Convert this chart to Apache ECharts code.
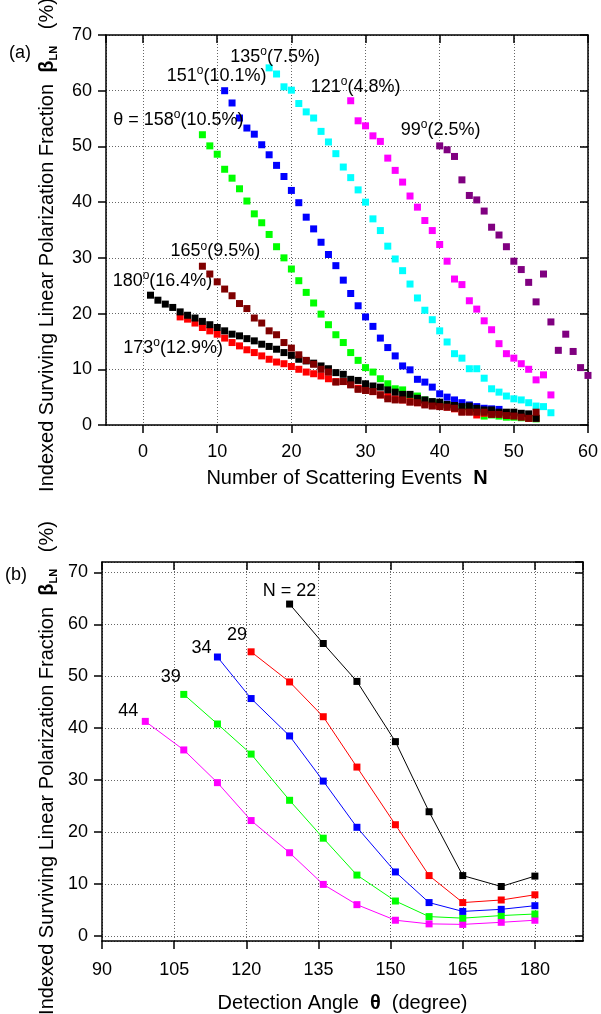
<!DOCTYPE html>
<html>
<head>
<meta charset="utf-8">
<script src="https://cdn.jsdelivr.net/npm/echarts@6/dist/echarts.min.js"></script>
<style>
html,body{margin:0;padding:0;background:#fff;}
#c{width:601px;height:1014px;}
</style>
</head>
<body>
<div id="c"></div>
<script>
// ---------- Panel (a): beta_LN vs N, one array per detection angle ----------
var startN180 = 1;
var vals180 = [23.3,22.4,21.7,21.1,20.3,19.7,19.2,18.6,18.0,17.5,16.9,16.3,16.0,15.5,15.1,14.5,14.1,13.6,13.0,12.5,11.8,11.5,11.1,10.6,10.1,9.4,9.1,8.2,8.0,7.4,7.0,6.8,6.3,5.9,5.5,5.5,4.8,4.5,4.2,4.1,3.7,3.5,3.3,3.4,3.0,2.7,2.7,2.3,2.3,2.3,2.1,2.0,1.2];
var startN173 = 5;
var vals173 = [19.4,19.0,18.3,17.5,16.9,16.3,15.6,14.8,14.2,13.5,13.0,12.4,11.8,11.3,11.0,10.5,10.0,9.5,9.2,8.8,8.3,7.8,7.8,7.3,6.6,6.3,6.0,5.4,5.1,4.7,4.5,4.2,4.0,3.8,3.5,3.4,3.2,2.9,2.4,2.4,1.8,2.1,2.1,2.1,1.8,1.7,1.5,1.2,1.2];
var startN165 = 8;
var vals165 = [28.5,27.1,25.7,24.4,23.2,21.8,20.9,19.2,18.3,16.9,16.2,14.8,13.8,12.6,11.6,10.9,10.0,9.5,7.7,7.8,7.2,6.4,6.2,6.0,5.4,4.7,4.5,4.5,4.1,4.0,3.6,3.4,3.3,3.2,3.0,2.3,2.3,2.3,2.3,1.9,1.9,1.7,1.6,1.4,1.2,2.3];
var startN158 = 8;
var vals158 = [52.1,50.1,48.6,45.9,44.3,42.4,40.2,37.9,36.3,34.2,32.0,30.0,28.0,25.9,23.8,21.9,19.9,18.0,16.2,14.8,13.0,11.6,10.3,9.5,8.3,7.4,6.5,6.3,5.2,5.2,4.5,4.1,3.8,3.5,3.2,3.0,2.8,2.5,1.6,1.8,1.6,1.4,1.4,1.3,1.2,1.1];
var startN151 = 11;
var vals151 = [60.0,57.8,55.1,53.3,52.2,50.3,48.5,46.6,44.6,42.1,39.9,37.3,35.2,32.8,30.6,28.6,26.0,23.6,21.4,19.4,17.7,15.6,13.9,12.4,10.6,9.9,8.2,7.7,6.8,5.6,5.0,4.5,4.0,3.6,3.3,3.0,2.9,2.8];
var startN135 = 17;
var vals135 = [64.1,63.0,60.7,60.1,57.7,56.2,55.1,52.7,50.8,48.7,46.3,44.4,42.2,40.0,37.0,34.9,32.1,29.8,27.7,25.3,22.8,20.6,18.9,16.9,14.9,12.8,12.0,10.1,10.1,8.4,6.5,5.9,5.2,4.7,4.5,4.0,3.4,3.3,2.2];
var startN121 = 28;
var vals121 = [58.2,54.6,53.7,51.9,50.9,47.9,45.7,43.6,41.1,39.1,36.7,34.9,32.4,29.4,26.2,25.2,22.3,20.8,18.7,17.1,14.6,12.8,12.0,11.0,10.0,8.1,9.0,5.4];
var startN99 = 40;
var vals99 = [50.1,49.4,48.2,44.0,41.2,40.4,38.4,35.5,34.1,32.0,29.4,27.9,25.6,22.1,27.1,18.5,13.4,16.3,13.2,10.3,8.9];

var angleLabelsA = {
  a180: ['180', '(16.4%)'], a173: ['173', '(12.9%)'], a165: ['165', '(9.5%)'],
  a158: ['θ = 158', '(10.5%)'], a151: ['151', '(10.1%)'], a135: ['135', '(7.5%)'],
  a121: ['121', '(4.8%)'], a99: ['99', '(2.5%)']
};

// ---------- Panel (b): beta_LN vs detection angle, one array per N ----------
var anglesB = [99, 107, 114, 121, 129, 136, 143, 151, 158, 165, 173, 180];
var startIdx22 = 4;
var valsN22 = [63.9,56.3,49.0,37.4,23.9,11.6,9.5,11.5];
var startIdx29 = 3;
var valsN29 = [54.7,48.9,42.2,32.5,21.4,11.6,6.4,6.9,7.9];
var startIdx34 = 2;
var valsN34 = [53.7,45.7,38.5,29.8,20.9,12.3,6.4,4.7,5.1,5.8];
var startIdx39 = 1;
var valsN39 = [46.5,40.8,35.0,26.1,18.8,11.7,6.7,3.7,3.4,3.9,4.2];
var startIdx44 = 0;
var valsN44 = [41.3,35.8,29.5,22.2,16.0,9.9,6.0,3.0,2.3,2.2,2.6,3.0];
var nLabelsB = ['N = 22', '29', '34', '39', '44'];

// ---------- build ----------
var FONT = '"Liberation Sans", Arial, sans-serif';
function ptsN(start, vals) { return vals.map(function (v, i) { return [start + i, v]; }); }
function ptsA(startIdx, vals) { return vals.map(function (v, i) { return [anglesB[startIdx + i], v]; }); }

function withLabelA(data, lab, off) {
  data[0] = {
    value: data[0],
    label: {
      show: true, position: 'inside', offset: off,
      formatter: '{t|' + lab[0] + '}{s|o}{t|' + lab[1] + '}',
      rich: {
        t: { fontSize: 18, color: '#000', fontFamily: FONT, lineHeight: 22 },
        s: { fontSize: 12, color: '#000', fontFamily: FONT, lineHeight: 12, verticalAlign: 'top' }
      }
    }
  };
  return data;
}
function withLabelB(data, text, off) {
  data[0] = {
    value: data[0],
    label: { show: true, position: 'inside', offset: off, formatter: text,
      fontSize: 18, color: '#000', fontFamily: FONT }
  };
  return data;
}

var gridLine = { show: true, lineStyle: { color: '#666', type: [1, 2], width: 1 } };
var axLine = { show: true, onZero: false, lineStyle: { color: '#000', width: 1.5 } };
var labStyle = { fontSize: 18, color: '#000', fontFamily: FONT };
var yNameText = 'Indexed Surviving Linear Polarization Fraction  {b|β}{sub|LN}   (%)';
function yTitle(cx, cy) {
  return {
    type: 'text', x: cx, y: cy, rotation: Math.PI / 2,
    style: {
      text: yNameText, align: 'center', verticalAlign: 'middle',
      fontSize: 20, fill: '#000', fontFamily: FONT, lineHeight: 24,
      rich: {
        b: { fontSize: 20, fontWeight: 'bold', fill: '#000', fontFamily: FONT, lineHeight: 24 },
        sub: { fontSize: 11, fontWeight: 'bold', fill: '#000', fontFamily: FONT, lineHeight: 11, verticalAlign: 'bottom' }
      }
    }
  };
}

function scatterA(name, color, data, z) {
  return { type: 'scatter', name: name, xAxisIndex: 0, yAxisIndex: 0, symbol: 'rect', symbolSize: 7,
    itemStyle: { color: color, opacity: 1 }, data: data, z: z };
}
function lineB(name, color, data) {
  return { type: 'line', name: name, xAxisIndex: 2, yAxisIndex: 2, symbol: 'rect', symbolSize: 7,
    showAllSymbol: true, itemStyle: { color: color, opacity: 1 }, lineStyle: { color: color, width: 1 }, data: data };
}

var tickOut = { show: true, inside: false, length: 8, lineStyle: { color: '#000', width: 1.5 } };
var tickIn = { show: true, inside: true, length: 8, lineStyle: { color: '#000', width: 1.5 } };

var option = {
  animation: false,
  textStyle: { fontFamily: FONT },
  grid: [
    { left: 106, top: 35, width: 484, height: 390 },
    { left: 102, top: 562, width: 481, height: 386 }
  ],
  xAxis: [
    { gridIndex: 0, type: 'value', min: -5, max: 60, minInterval: 10, maxInterval: 10,
      axisLine: axLine, axisTick: tickOut,
      axisLabel: Object.assign({ margin: 18, showMinLabel: false }, labStyle), splitLine: gridLine,
      name: 'Number of Scattering Events  {b|N}', nameLocation: 'middle', nameGap: 43,
      nameTextStyle: { fontSize: 20, color: '#000', fontFamily: FONT,
        rich: { b: { fontSize: 20, fontWeight: 'bold', color: '#000', fontFamily: FONT } } } },
    { gridIndex: 0, type: 'value', position: 'top', min: -5, max: 60, minInterval: 10, maxInterval: 10,
      axisLine: axLine, axisTick: tickIn, axisLabel: { show: false }, splitLine: { show: false } },
    { gridIndex: 1, type: 'value', min: 90, max: 190, interval: 15,
      axisLine: axLine, axisTick: tickOut,
      axisLabel: Object.assign({ margin: 20, showMaxLabel: false }, labStyle), splitLine: gridLine,
      name: 'Detection Angle  {b|θ}  (degree)', nameLocation: 'middle', nameGap: 52,
      nameTextStyle: { fontSize: 20, color: '#000', fontFamily: FONT,
        rich: { b: { fontSize: 20, fontWeight: 'bold', color: '#000', fontFamily: FONT } } } },
    { gridIndex: 1, type: 'value', position: 'top', min: 90, max: 190, interval: 15,
      axisLine: axLine, axisTick: tickIn, axisLabel: { show: false }, splitLine: { show: false } }
  ],
  yAxis: [
    { gridIndex: 0, type: 'value', min: 0, max: 70, interval: 10,
      axisLine: axLine, axisTick: tickOut,
      axisLabel: Object.assign({ margin: 14 }, labStyle), splitLine: gridLine },
    { gridIndex: 0, type: 'value', position: 'right', min: 0, max: 70, interval: 10,
      axisLine: axLine, axisTick: tickIn, axisLabel: { show: false }, splitLine: { show: false } },
    { gridIndex: 1, type: 'value', min: -1, max: 72, minInterval: 10, maxInterval: 10,
      axisLine: axLine, axisTick: tickOut,
      axisLabel: Object.assign({ margin: 14, showMinLabel: false, showMaxLabel: false }, labStyle), splitLine: gridLine },
    { gridIndex: 1, type: 'value', position: 'right', min: -1, max: 72, minInterval: 10, maxInterval: 10,
      axisLine: axLine, axisTick: tickIn, axisLabel: { show: false }, splitLine: { show: false } }
  ],
  graphic: [
    { type: 'text', left: 9, top: 44, style: { text: '(a)', fontSize: 18, fill: '#000', fontFamily: FONT } },
    { type: 'text', left: 5, top: 566, style: { text: '(b)', fontSize: 18, fill: '#000', fontFamily: FONT } },
    yTitle(47, 245),
    yTitle(47, 768)
  ],
  series: [
    scatterA('99', '#800080', withLabelA(ptsN(startN99, vals99), angleLabelsA.a99, [1, -16]), 2),
    scatterA('121', '#FF00FF', withLabelA(ptsN(startN121, vals121), angleLabelsA.a121, [5, -14]), 3),
    scatterA('135', '#00FFFF', withLabelA(ptsN(startN135, vals135), angleLabelsA.a135, [6, -11]), 4),
    scatterA('151', '#0000FF', withLabelA(ptsN(startN151, vals151), angleLabelsA.a151, [-8, -15]), 5),
    scatterA('158', '#00FF00', withLabelA(ptsN(startN158, vals158), angleLabelsA.a158, [-24, -15]), 6),
    scatterA('173', '#FF0000', withLabelA(ptsN(startN173, vals173), angleLabelsA.a173, [-7, 31]), 7),
    scatterA('180', '#000000', withLabelA(ptsN(startN180, vals180), angleLabelsA.a180, [12, -14]), 8),
    scatterA('165', '#800000', withLabelA(ptsN(startN165, vals165), angleLabelsA.a165, [13, -15]), 9),
    lineB('N44', '#FF00FF', withLabelB(ptsA(startIdx44, valsN44), nLabelsB[4], [-17, -10])),
    lineB('N39', '#00FF00', withLabelB(ptsA(startIdx39, valsN39), nLabelsB[3], [-13, -17])),
    lineB('N34', '#0000FF', withLabelB(ptsA(startIdx34, valsN34), nLabelsB[2], [-16, -9])),
    lineB('N29', '#FF0000', withLabelB(ptsA(startIdx29, valsN29), nLabelsB[1], [-14, -17])),
    lineB('N22', '#000000', withLabelB(ptsA(startIdx22, valsN22), nLabelsB[0], [0, -13]))
  ]
};
var chart = echarts.init(document.getElementById('c'), null, { renderer: 'canvas' });
chart.setOption(option);
</script>
</body>
</html>
